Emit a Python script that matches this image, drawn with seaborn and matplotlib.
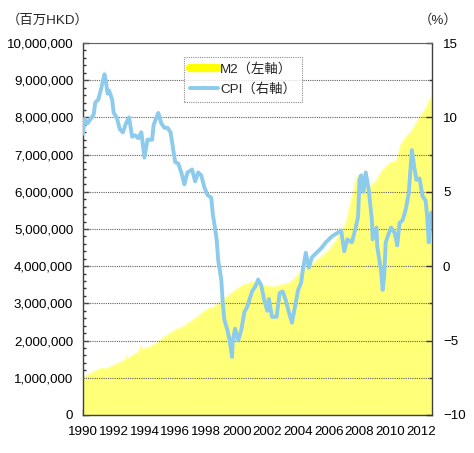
import matplotlib
matplotlib.use('Agg')
import matplotlib.pyplot as plt
import seaborn as sns
import pandas as pd
from matplotlib.ticker import FuncFormatter, MultipleLocator
from matplotlib.lines import Line2D

# M2 money supply (HK$ million)
m2_years = [1990.0, 1990.3, 1990.65, 1991.1, 1991.55, 1992.0, 1992.4, 1992.8, 1992.85, 1992.9,
            1993.25, 1993.6, 1993.8, 1993.85, 1994.0, 1994.35, 1994.8, 1995.2, 1995.65, 1996.1,
            1996.5, 1996.95, 1997.4, 1997.8, 1998.25, 1998.45, 1999.1, 1999.75, 2000.4, 2001.05,
            2001.7, 2002.35, 2002.8, 2003.45, 2004.1, 2004.75, 2005.4, 2006.0, 2006.5, 2006.7,
            2006.8, 2007.15, 2007.35, 2007.8, 2008.2, 2008.6, 2009.1, 2009.5, 2009.95, 2010.4,
            2010.7, 2011.0, 2011.4, 2011.9, 2012.35, 2012.55, 2012.66]
m2_values = [1.00, 1.08, 1.16, 1.24, 1.26, 1.34, 1.42, 1.50, 1.61, 1.52,
             1.61, 1.69, 1.88, 1.75, 1.80, 1.83, 1.94, 2.07, 2.20, 2.31,
             2.37, 2.50, 2.63, 2.77, 2.88, 2.88, 3.09, 3.31, 3.49, 3.58,
             3.49, 3.44, 3.49, 3.55, 3.84, 3.98, 4.22, 4.44, 4.70, 5.05,
             4.85, 5.24, 5.60, 6.40, 6.50, 6.13, 6.32, 6.59, 6.77, 6.85,
             7.30, 7.47, 7.66, 8.00, 8.28, 8.47, 8.55]
m2_values = [v * 1e6 for v in m2_values]

# CPI (% y/y)
cpi_years = [1990.0, 1990.1, 1990.3, 1990.5, 1990.7, 1990.8, 1991.0, 1991.2, 1991.4, 1991.5,
             1991.6, 1991.7, 1991.9, 1992.0, 1992.2, 1992.4, 1992.6, 1992.8, 1993.0, 1993.2,
             1993.4, 1993.6, 1993.8, 1994.0, 1994.2, 1994.5, 1994.6, 1994.9, 1995.1, 1995.3,
             1995.5, 1995.7, 1995.85, 1996.0, 1996.2, 1996.4, 1996.6, 1996.8, 1997.1, 1997.3,
             1997.5, 1997.7, 1997.9, 1998.1, 1998.35, 1998.45, 1998.6, 1998.7, 1998.8, 1999.0,
             1999.1, 1999.2, 1999.4, 1999.55, 1999.7, 1999.75, 1999.9, 2000.0, 2000.1, 2000.3,
             2000.5, 2000.7, 2001.0, 2001.2, 2001.4, 2001.6, 2001.8, 2002.0, 2002.1, 2002.3,
             2002.6, 2002.8, 2003.0, 2003.2, 2003.4, 2003.6, 2003.8, 2004.0, 2004.2, 2004.3,
             2004.5, 2004.7, 2004.9, 2005.2, 2005.5, 2005.8, 2006.2, 2006.5, 2006.8, 2007.0,
             2007.2, 2007.5, 2007.7, 2007.9, 2008.0, 2008.1, 2008.25, 2008.4, 2008.6, 2008.8,
             2008.85, 2009.1, 2009.15, 2009.4, 2009.5, 2009.6, 2009.7, 2009.9, 2010.05, 2010.3,
             2010.45, 2010.6, 2010.8, 2011.0, 2011.2, 2011.4, 2011.55, 2011.7, 2011.9, 2012.1,
             2012.3, 2012.4, 2012.5, 2012.65]
cpi_values = [8.9, 9.9, 9.6, 9.9, 10.2, 11.0, 11.2, 12.0, 12.9, 12.4,
              11.6, 11.8, 11.2, 10.3, 10.0, 9.2, 9.0, 9.6, 10.0, 8.7,
              8.8, 8.6, 9.0, 7.3, 8.5, 8.5, 9.5, 10.3, 9.6, 9.3,
              9.3, 9.0, 8.0, 7.0, 6.9, 6.3, 5.5, 6.3, 6.5, 5.7,
              6.3, 6.1, 5.3, 4.8, 4.6, 3.5, 2.5, 1.8, 0.4, -0.9,
              -2.5, -3.6, -4.3, -5.0, -6.1, -5.0, -4.2, -4.6, -5.0, -4.3,
              -3.1, -2.7, -1.7, -1.4, -0.9, -1.3, -2.3, -3.0, -2.2, -3.4,
              -3.4, -1.8, -1.7, -2.3, -3.1, -3.8, -2.7, -1.6, -1.1, -0.3,
              0.9, -0.1, 0.6, 0.9, 1.2, 1.6, 2.0, 2.2, 2.4, 1.0,
              1.8, 1.6, 2.4, 3.3, 5.8, 6.1, 5.0, 6.3, 5.1, 3.1,
              1.8, 2.6, 1.3, -0.3, -1.6, -0.7, 1.6, 2.2, 2.6, 2.2,
              1.4, 2.9, 3.1, 3.8, 4.9, 7.8, 6.7, 5.8, 5.9, 4.7,
              4.4, 3.3, 1.6, 3.6]

year_ticks = list(range(1990, 2013, 2))

m2_df = pd.DataFrame({'year': m2_years, 'M2': m2_values})
cpi_df = pd.DataFrame({'year': cpi_years, 'CPI': cpi_values})

sns.set_style('ticks')
plt.rcParams['font.family'] = ['Liberation Sans', 'Noto Sans CJK JP', 'DejaVu Sans']

area_color = '#ffff78'
line_color = '#8ccbec'
grid_color = '#606060'
dots = (0, (1, 1))

fig = plt.figure(figsize=(4.74, 4.53), dpi=100)
ax = fig.add_axes([0.175, 0.084, 0.736, 0.821])

# M2 area (left axis)
ax.fill_between(m2_df['year'], 0, m2_df['M2'], color=area_color, linewidth=0, zorder=1)
sns.lineplot(data=m2_df, x='year', y='M2', ax=ax, color=area_color, linewidth=0.5, zorder=1)
ax.set_xlim(1990, 2012.7)
ax.set_ylim(0, 10_000_000)
ax.yaxis.set_major_locator(MultipleLocator(1_000_000))
ax.yaxis.set_minor_locator(MultipleLocator(200_000))
ax.yaxis.set_major_formatter(FuncFormatter(lambda v, p: f'{int(v):,}'))
ax.set_xticks(year_ticks)
ax.set_xticklabels([str(y) for y in year_ticks])
ax.tick_params(axis='both', which='both', direction='in', labelsize=9.6, color='#333333',
               width=1.0, labelcolor='black')
ax.tick_params(axis='y', which='both', left=True, right=False)
ax.tick_params(axis='y', which='major', length=4, pad=7)
ax.tick_params(axis='y', which='minor', length=2.5)
ax.tick_params(axis='x', bottom=True, top=False, length=4, pad=8)
ax.set_xlabel('')
ax.set_ylabel('')
for side in ['left', 'bottom']:
    ax.spines[side].set_color('#404040')
    ax.spines[side].set_linewidth(1.0)
ax.spines['top'].set_visible(False)
ax.spines['right'].set_visible(False)
ax.grid(False)

# CPI line (right axis); its 2.5-step grid matches every 1,000,000 on the left
ax2 = ax.twinx()
sns.lineplot(data=cpi_df, x='year', y='CPI', ax=ax2, color=line_color, linewidth=2.8)
ax2.set_ylim(-10, 15)
ax2.set_xlim(1990, 2012.7)
ax2.yaxis.set_major_locator(MultipleLocator(5))
ax2.yaxis.set_minor_locator(MultipleLocator(2.5))
ax2.tick_params(axis='y', which='both', direction='in', labelsize=9.6, pad=8,
                right=True, left=False, color='#333333', width=1.0, labelcolor='black')
ax2.tick_params(axis='y', which='major', length=4)
ax2.tick_params(axis='y', which='minor', length=2.5)
ax2.set_ylabel('')
ax2.set_xlabel('')
ax2.set_axisbelow(True)
ax2.yaxis.grid(True, which='both', color=grid_color, linestyle=dots, linewidth=0.8)
ax2.xaxis.grid(False)
ax2.spines['right'].set_visible(True)
ax2.spines['right'].set_color('#404040')
ax2.spines['right'].set_linewidth(1.0)
ax2.spines['top'].set_visible(True)
ax2.spines['top'].set_color(grid_color)
ax2.spines['top'].set_linestyle(dots)
ax2.spines['top'].set_linewidth(0.8)
ax2.spines['left'].set_visible(False)
ax2.spines['bottom'].set_visible(False)

handles = [Line2D([], [], color='#ffff00', linewidth=6),
           Line2D([], [], color=line_color, linewidth=2.8)]
leg = ax2.legend(handles, ['M2（左軸）', 'CPI（右軸）'], loc='upper left',
                 bbox_to_anchor=(0.29, 0.962), fontsize=9.6, frameon=True,
                 fancybox=False, handlelength=2.1, handletextpad=0.15,
                 borderpad=0.45, labelspacing=0.55, borderaxespad=0)
leg.get_frame().set_edgecolor('#707070')
leg.get_frame().set_linestyle(dots)
leg.get_frame().set_linewidth(0.8)

fig.text(0.015, 0.955, '（百万HKD）', fontsize=9.6, va='center', ha='left')
fig.text(0.965, 0.955, '（%）', fontsize=9.6, va='center', ha='right')

fig.savefig('out.png', dpi=100)
